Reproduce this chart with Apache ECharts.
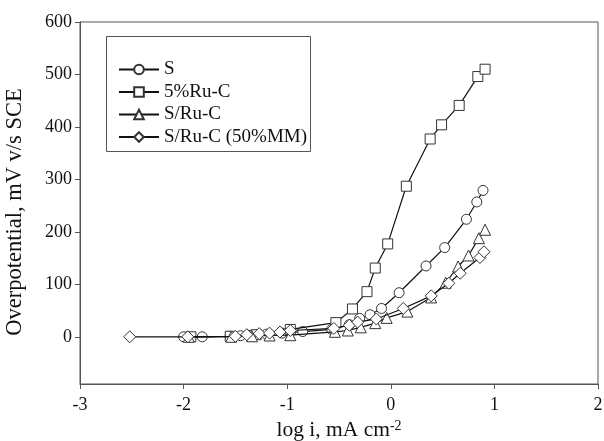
<!DOCTYPE html>
<html><head><meta charset="utf-8">
<script src="https://cdn.jsdelivr.net/npm/echarts@6/dist/echarts.min.js"></script>
<style>html,body{margin:0;padding:0;background:#fff}#c{width:604px;height:441px}</style>
</head><body><div id="c"></div>
<script>
const seriesNames = ['S', '5%Ru-C', 'S/Ru-C', 'S/Ru-C (50%MM)'];
const symbols = ['circle', 'rect', 'triangle', 'diamond'];

const sX = [-2.0, -1.82, -1.55, -1.45, -1.35, -1.2, -1.05, -0.85, -0.57, -0.4, -0.3, -0.2, -0.09, 0.08, 0.34, 0.52, 0.73, 0.83, 0.89];
const sY = [0, 0, 1, 2, 3, 5, 7, 10, 14, 23, 35, 42, 54, 84, 135, 170, 224, 257, 279];

const ruX = [-1.93, -1.55, -1.3, -0.97, -0.53, -0.37, -0.23, -0.15, -0.03, 0.15, 0.38, 0.49, 0.66, 0.84, 0.91];
const ruY = [0, 1, 4, 14, 27, 53, 86, 131, 177, 287, 377, 404, 441, 496, 510];

const sruX = [-1.95, -1.54, -1.34, -1.17, -0.97, -0.54, -0.415, -0.29, -0.15, -0.04, 0.16, 0.39, 0.53, 0.65, 0.75, 0.85, 0.91];
const sruY = [0, 0, 1, 2.5, 3, 9.5, 12, 18, 26, 36, 48, 75, 103, 134, 155, 188, 204];

const mmX = [-2.52, -1.96, -1.5, -1.39, -1.27, -1.17, -1.07, -0.97, -0.55, -0.4, -0.32, -0.14, 0.12, 0.39, 0.56, 0.67, 0.86, 0.9];
const mmY = [0, 0, 1, 4, 6, 7, 9, 12, 16, 22, 28, 34, 54, 78, 102, 121, 151, 162];

const yTicks = [0, 100, 200, 300, 400, 500, 600];
const xTicks = [-3, -2, -1, 0, 1, 2];

const xs = [sX, ruX, sruX, mmX];
const ys = [sY, ruY, sruY, mmY];
const sizes = [10, 10, 11, 12];

const font = "'Liberation Serif', 'Times New Roman', serif";
const axisColor = '#555';

const chart = echarts.init(document.getElementById('c'));
chart.setOption({
  animation: false,
  backgroundColor: '#fff',
  textStyle: { fontFamily: font, color: '#111' },
  grid: { left: 80, right: 6, top: 22, bottom: 57, show: true, borderColor: axisColor, borderWidth: 1,
          containLabel: false, outerBoundsMode: 'none' },
  xAxis: {
    type: 'value', min: -3, max: 2, interval: 1,
    axisLine: { show: true, onZero: false, lineStyle: { color: axisColor } },
    axisTick: { show: true, length: 5, lineStyle: { color: axisColor } },
    splitLine: { show: false },
    axisLabel: { color: '#111', fontFamily: font, fontSize: 18, margin: 12 },
    name: '{a|log i, mA cm}{s|-2}',
    nameLocation: 'middle', nameGap: 35,
    nameTextStyle: { rich: {
      a: { fontFamily: font, fontSize: 21.5, color: '#111' },
      s: { fontFamily: font, fontSize: 14, color: '#111', verticalAlign: 'top', padding: [0, 0, 8, 0] }
    } }
  },
  yAxis: {
    type: 'value', min: -90, max: 600,
    axisLine: { show: true, onZero: false, lineStyle: { color: axisColor } },
    axisTick: { show: true, length: 5, customValues: yTicks, lineStyle: { color: axisColor } },
    splitLine: { show: false },
    axisLabel: { color: '#111', fontFamily: font, fontSize: 18, margin: 8, customValues: yTicks },
    name: 'Overpotential, mV v/s SCE',
    nameLocation: 'middle', nameGap: 53,
    nameTextStyle: { fontFamily: font, fontSize: 22.5, color: '#111', padding: [0, 18, 0, 0] }
  },
  legend: {
    orient: 'vertical', left: 113, top: 55,
    itemWidth: 40, itemHeight: 12, itemGap: 3.5,
    textStyle: { fontFamily: font, fontSize: 19, lineHeight: 18, color: '#111' },
    data: seriesNames
  },
  graphic: [{
    type: 'rect', left: 104, top: 34, shape: { width: 204, height: 115 },
    style: { fill: 'none', stroke: axisColor, lineWidth: 1 }, silent: true, z: 10
  }],
  series: seriesNames.map((n, i) => ({
    name: n, type: 'line',
    data: xs[i].map((x, j) => [x, ys[i][j]]),
    symbol: symbols[i], symbolSize: sizes[i], showSymbol: true,
    lineStyle: { color: '#111', width: 1.2 },
    itemStyle: { color: '#fff', borderColor: '#333', borderWidth: 1 },
    z: 2 + i
  }))
});
</script></body></html>
